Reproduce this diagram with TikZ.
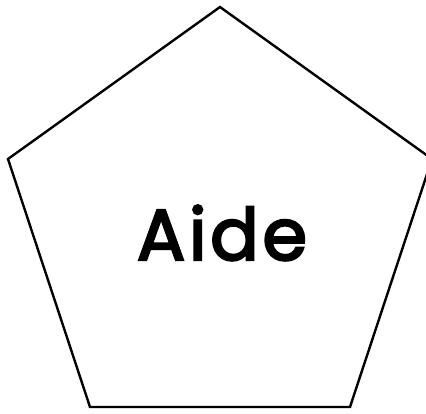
\documentclass[tikz,border=0pt]{standalone}
\usepackage{fontspec}
\setmainfont{Poppins}
\newfontfamily\lblfont{Poppins}[FakeBold=3.2,LetterSpace=5]
\begin{document}
\begin{tikzpicture}[x=1pt,y=1pt,
  shapeline/.style={draw=black,line width=2.4pt,line join=miter}]
\useasboundingbox (0,0) rectangle (426,413);
\coordinate (t) at (220,406);
\coordinate (l) at (8,254);
\coordinate (r) at (432,254);
\coordinate (bl) at (90,6);
\coordinate (br) at (350,6);
\draw[shapeline] (t) -- (r) -- (br) -- (bl) -- (l) -- cycle;
\node[font=\lblfont\fontsize{72}{80}\selectfont, inner sep=0pt, anchor=base] (lbl) at (222,153) {Aide};
\end{tikzpicture}
\end{document}
